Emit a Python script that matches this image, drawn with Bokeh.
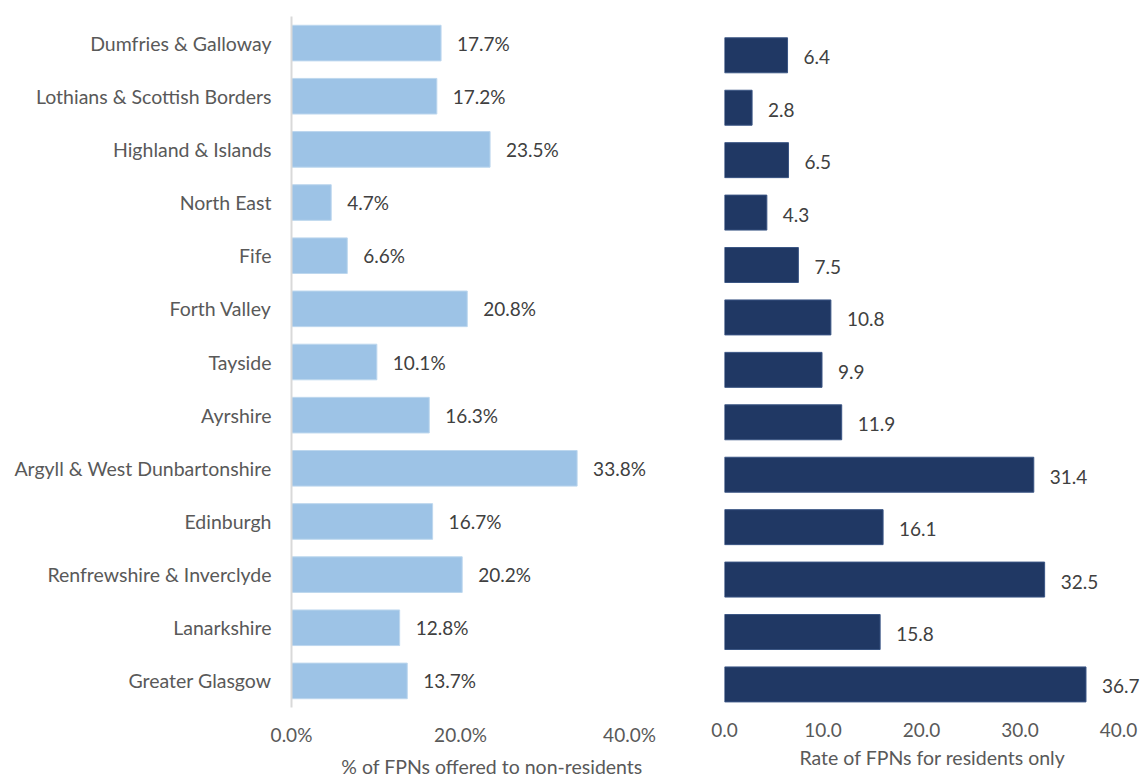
from bokeh.plotting import figure
from bokeh.layouts import row
from bokeh.models import (ColumnDataSource, FactorRange, Range1d, LabelSet,
                          FixedTicker, PrintfTickFormatter)
from bokeh.core.properties import value
from bokeh.embed import file_html
from bokeh.resources import INLINE

regions = ["Dumfries & Galloway", "Lothians & Scottish Borders", "Highland & Islands",
           "North East", "Fife", "Forth Valley", "Tayside", "Ayrshire",
           "Argyll & West Dunbartonshire", "Edinburgh", "Renfrewshire & Inverclyde",
           "Lanarkshire", "Greater Glasgow"]
nonres_pct = [17.7, 17.2, 23.5, 4.7, 6.6, 20.8, 10.1, 16.3, 33.8, 16.7, 20.2, 12.8, 13.7]
res_rate = [6.4, 2.8, 6.5, 4.3, 7.5, 10.8, 9.9, 11.9, 31.4, 16.1, 32.5, 15.8, 36.7]
left_ticks = [0, 20, 40]
right_ticks = [0, 10, 20, 30, 40]
left_title = "% of FPNs offered to non-residents"
right_title = "Rate of FPNs for residents only"

FONT = "Lato"
TXT = "#595959"
LBL = "#404040"
H = 780
n = len(regions)
factors = list(reversed(regions))

src_l = ColumnDataSource(dict(y=regions, v=nonres_pct,
                              t=["%.1f%%" % v for v in nonres_pct]))
# right chart rows are positioned by their index in the region list
src_r = ColumnDataSource(dict(y=[n - 0.5 - i for i in range(n)], v=res_rate,
                              t=["%.1f" % v for v in res_rate]))


def style(p, fmt, ticks):
    p.outline_line_color = None
    p.xgrid.grid_line_color = None
    p.ygrid.grid_line_color = None
    p.xaxis.ticker = FixedTicker(ticks=ticks)
    p.xaxis.formatter = PrintfTickFormatter(format=fmt)
    p.xaxis.axis_line_color = None
    p.xaxis.major_tick_line_color = None
    p.xaxis.minor_tick_line_color = None
    p.xaxis.major_tick_out = 0
    p.xaxis.major_tick_in = 0
    p.xaxis.major_label_text_font = FONT
    p.xaxis.major_label_text_font_size = "19px"
    p.xaxis.major_label_text_color = TXT
    p.xaxis.major_label_standoff = 15
    p.xaxis.axis_label_text_font = FONT
    p.xaxis.axis_label_text_font_size = "19.5px"
    p.xaxis.axis_label_text_font_style = "normal"
    p.xaxis.axis_label_text_color = TXT
    p.xaxis.axis_label_standoff = 6


# Left chart: 40% sits 338px right of the axis, frame extends past it for labels
W1, L1 = 692, 291
p1 = figure(width=W1, height=H, y_range=FactorRange(factors=factors, range_padding=0),
            x_range=Range1d(0, 40 * (W1 - L1) / 338), output_backend="svg",
            toolbar_location=None, min_border_left=L1, min_border_right=0,
            min_border_top=16, min_border_bottom=40, x_axis_label=left_title)
p1.hbar(y="y", right="v", left=0, height=0.67, source=src_l,
        fill_color="#9DC3E6", line_color="#BDD7EE", line_width=1)
p1.add_layout(LabelSet(x="v", y="y", text="t", source=src_l, x_offset=16, y_offset=0,
                       text_baseline="middle", text_align="left",
                       text_font=value(FONT), text_font_size=value("19px"),
                       text_color=LBL))
style(p1, "%.1f%%", left_ticks)
p1.yaxis.axis_line_color = "#D9D9D9"
p1.yaxis.axis_line_width = 2
p1.yaxis.major_tick_line_color = None
p1.yaxis.minor_tick_line_color = None
p1.yaxis.major_tick_out = 0
p1.yaxis.major_tick_in = 0
p1.yaxis.major_label_standoff = 20
p1.yaxis.major_label_text_font = FONT
p1.yaxis.major_label_text_font_size = "19.5px"
p1.yaxis.major_label_text_color = TXT

# Right chart: 40 sits 394px right of its zero line
W2, L2 = 448, 32
p2 = figure(width=W2, height=H, y_range=Range1d(0.06, 13.24),
            x_range=Range1d(0, 40 * (W2 - L2) / 394), output_backend="svg",
            toolbar_location=None, min_border_left=L2, min_border_right=0,
            min_border_top=16, min_border_bottom=40, x_axis_label=right_title)
p2.hbar(y="y", right="v", left=0, height=0.667, source=src_r,
        fill_color="#203864", line_color="#3A5584", line_width=1)
p2.add_layout(LabelSet(x="v", y="y", text="t", source=src_r, x_offset=16, y_offset=-2,
                       text_baseline="middle", text_align="left",
                       text_font=value(FONT), text_font_size=value("19px"),
                       text_color=LBL))
style(p2, "%.1f", right_ticks)
p2.yaxis.visible = False

layout = row(p1, p2)
open("out.html", "w").write(file_html(layout, INLINE))
